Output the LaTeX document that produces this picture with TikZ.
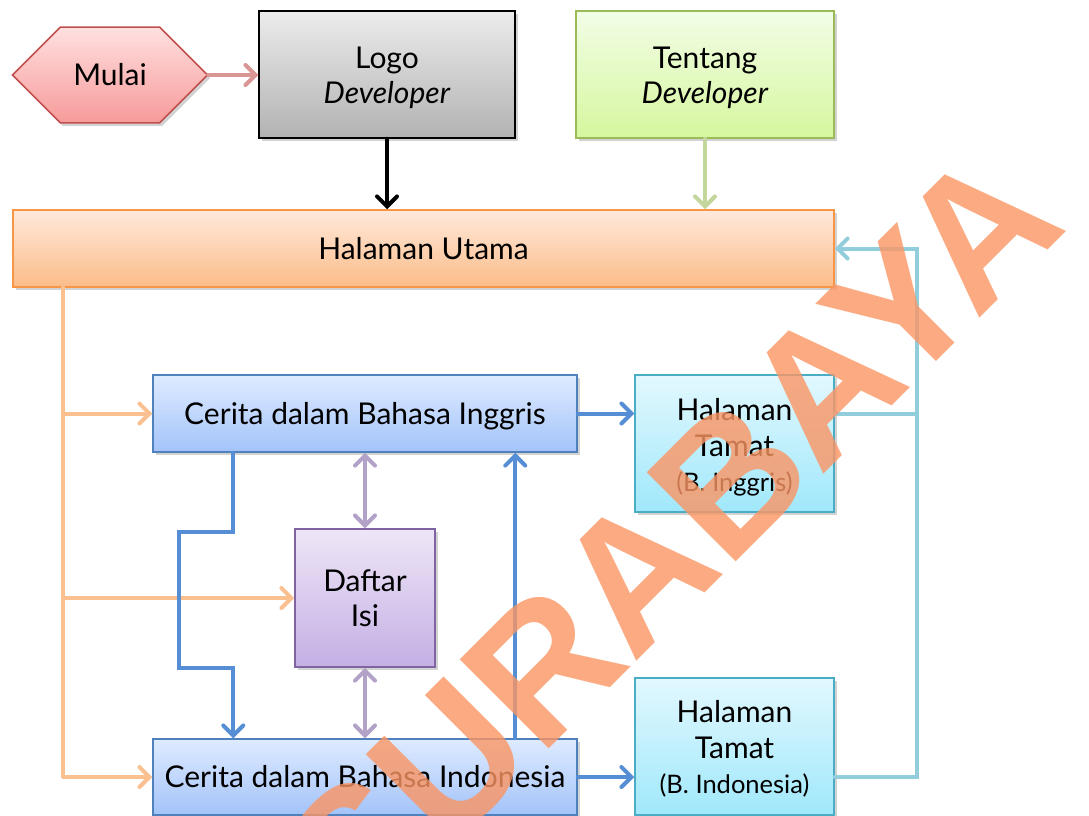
\documentclass[tikz,border=0pt]{standalone}
\usepackage{fontspec}
\setmainfont{Lato}
\newfontfamily\wmfont{Liberation Sans}
\usetikzlibrary{arrows.meta,shapes.misc,shadows,calc}
\definecolor{pinkB}{HTML}{C0504D}
\definecolor{pinkT}{HTML}{FFE0E0}
\definecolor{pinkBot}{HTML}{F79A9A}
\definecolor{pinkArr}{HTML}{D99694}
\definecolor{grayT}{HTML}{ECECEC}
\definecolor{grayBot}{HTML}{B2B2B2}
\definecolor{greenT}{HTML}{F2FDE6}
\definecolor{greenBot}{HTML}{D6F79E}
\definecolor{greenB}{HTML}{9BBB59}
\definecolor{greenArr}{HTML}{C3D69B}
\definecolor{orT}{HTML}{FFE9DB}
\definecolor{orBot}{HTML}{FBBC88}
\definecolor{orB}{HTML}{F79646}
\definecolor{orArr}{HTML}{FAC090}
\definecolor{blT}{HTML}{DEEBFF}
\definecolor{blBot}{HTML}{A3C3F9}
\definecolor{blB}{HTML}{4F81BD}
\definecolor{blArr}{HTML}{558ED5}
\definecolor{puT}{HTML}{EEE6F7}
\definecolor{puBot}{HTML}{C4AFE4}
\definecolor{puB}{HTML}{8064A2}
\definecolor{puArr}{HTML}{B3A2C7}
\definecolor{cyT}{HTML}{E2F8FE}
\definecolor{cyBot}{HTML}{A0E8FB}
\definecolor{cyB}{HTML}{4BACC6}
\definecolor{cyArr}{HTML}{92CDDC}
\definecolor{wm}{HTML}{FB9563}
\newcommand{\tpstrut}[1]{\rule{0pt}{#1}}
\newcommand{\smallsz}{\fontsize{25.5}{30}\selectfont}
\begin{document}
\begin{tikzpicture}[x=1pt,y=-1pt,
  txt/.style={font=\fontsize{30}{35}\selectfont},
  box/.style={rectangle, draw, line width=1.5pt, align=center, inner sep=0pt, txt,
    drop shadow={shadow xshift=2.5pt, shadow yshift=-3pt, opacity=0.25, fill=black!70}},
  conn/.style={line width=4pt, line cap=round, line join=round},
  tip/.style={-{Straight Barb[length=10pt,width=20pt,line cap=round]}},
  dtip/.style={{Straight Barb[length=10pt,width=20pt,line cap=round]}-{Straight Barb[length=10pt,width=20pt,line cap=round]}}]
\useasboundingbox (0,0) rectangle (1089,816);
\fill[white] (0,0) rectangle (1089,816);

% nodes
\node[chamfered rectangle, chamfered rectangle xsep=39pt, chamfered rectangle ysep=46pt,
  draw=pinkB, line width=1.5pt, top color=pinkT, bottom color=pinkBot, txt,
  minimum width=195pt, minimum height=92pt, inner sep=0pt,
  drop shadow={shadow xshift=2.5pt, shadow yshift=-3pt, opacity=0.25, fill=black!70}]
  (mulai) at (110,75) {Mulai};
\node[box, draw=black, top color=grayT, bottom color=grayBot, minimum width=256pt, minimum height=127pt]
  (logo) at (387,74.5) {\tpstrut{28pt}Logo\\\textit{Developer}};
\node[box, draw=greenB, top color=greenT, bottom color=greenBot, minimum width=258pt, minimum height=127pt]
  (tentang) at (705,74.5) {\tpstrut{28pt}Tentang\\\textit{Developer}};
\node[box, draw=orB, top color=orT, bottom color=orBot, minimum width=821pt, minimum height=77pt]
  (utama) at (423.5,248.5) {Halaman Utama};
\node[box, draw=blB, top color=blT, bottom color=blBot, minimum width=424pt, minimum height=77pt, text depth=0pt]
  (inggris) at (365,413.5) {Cerita dalam Bahasa Inggris};
\node[box, draw=puB, top color=puT, bottom color=puBot, minimum width=140pt, minimum height=138pt]
  (daftar) at (365,598) {Daftar\\Isi};
\node[box, draw=blB, top color=blT, bottom color=blBot, minimum width=424pt, minimum height=76pt]
  (indo) at (365,777) {Cerita dalam Bahasa Indonesia};
\node[box, draw=cyB, top color=cyT, bottom color=cyBot, minimum width=199pt, minimum height=137pt]
  (tamat1) at (734.5,443.5) {\tpstrut{30pt}Halaman\\[1pt]Tamat\\{\smallsz (B. Inggris)}};
\node[box, draw=cyB, top color=cyT, bottom color=cyBot, minimum width=199pt, minimum height=137pt]
  (tamat2) at (734.5,746.5) {\tpstrut{26pt}Halaman\\[1pt]Tamat\\{\smallsz (B. Indonesia)}};

% connectors
\draw[conn, tip, pinkArr] (mulai.east) -- (logo.west |- mulai.east);
\draw[conn, tip, black] (logo.south) -- (logo.south |- utama.north);
\draw[conn, tip, greenArr] (tentang.south) -- (tentang.south |- utama.north);

\coordinate (trunk) at ($(utama.south west)+(51,0)$);
\draw[conn, tip, orArr] (trunk) |- (indo.west);
\draw[conn, tip, orArr] (trunk |- inggris.west) -- (inggris.west);
\draw[conn, tip, orArr] (trunk |- daftar.west) -- (daftar.west);

\coordinate (zig) at ($(inggris.south west)+(81,0)$);
\draw[conn, tip, blArr, line join=miter] (zig) -- ++(0,79) -- ++(-54,0) -- ++(0,136) -- ++(54,0) -- (zig |- indo.north);
\coordinate (up) at ($(indo.north west)+(363,0)$);
\draw[conn, tip, blArr] (up) -- (up |- inggris.south);
\draw[conn, tip, blArr] (inggris.east) -- (inggris.east -| tamat1.west);
\draw[conn, tip, blArr] (indo.east) -- (indo.east -| tamat2.west);

\draw[conn, dtip, puArr] (inggris.south) -- (daftar.north);
\draw[conn, dtip, puArr] (daftar.south) -- (indo.north);

\draw[conn, tip, cyArr, line join=miter] (indo.east -| tamat2.east) -- ++(82,0) coordinate (rt) |- (utama.east);
\draw[conn, cyArr] (inggris.east -| tamat1.east) -- (inggris.east -| rt);

% watermark
\node[text=wm, opacity=0.8, rotate=45, font=\wmfont\bfseries\fontsize{183}{183}\selectfont, inner sep=0pt]
  (wmk) at (671,538) {SURABAYA};
\end{tikzpicture}
\end{document}
